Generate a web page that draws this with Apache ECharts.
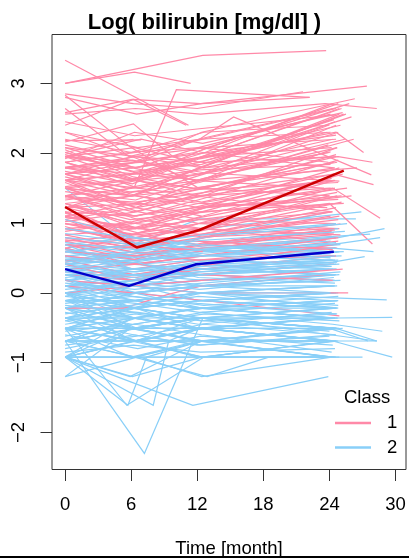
<!DOCTYPE html>
<html>
<head>
<meta charset="utf-8">
<script src="https://cdn.jsdelivr.net/npm/echarts@6/dist/echarts.min.js"></script>
<style>html,body{margin:0;padding:0;background:#fff}#c{width:409px;height:558px}</style>
</head>
<body>
<div id="c"></div>
<script>
// Each trajectory: [t0, y0, t1, y1, ...]  (t in months, y = log bilirubin)
const pinkTraj = [
[0,3.00, 6.3,3.16, 11.4,3.00],
[0,3.00, 12.5,3.40, 23.7,3.47],
[0,3.33, 11.2,2.40],
[0,2.85, 6.2,2.71, 12.0,2.64, 21.6,2.88],
[0,2.80, 6.5,2.56, 12.4,2.71, 22.2,2.80],
[0,2.58, 6.1,2.77, 12.3,2.71, 27.4,2.96],
[0,2.40, 6.2,2.77, 11.0,2.40],
[0,2.56, 6.4,2.64, 12.3,2.56, 23.6,2.71, 28.3,2.64],
[0,2.16, 6.2,2.42, 9.8,1.95, 12.6,1.79, 24.3,2.20],
[0,2.18, 6.9,2.19],
[0,1.22, 6.3,1.52, 10.1,2.91, 22.2,2.80],
[0,2.83, 6.0,2.08, 12.1,1.50, 24.0,1.39],
[0,2.64, 5.8,1.95, 12.5,2.20, 24.6,2.64],
[0,1.87, 6.4,2.01, 12.2,2.20, 15.3,2.52, 27.8,1.69],
[0,2.01, 6.5,1.79, 12.1,2.08, 24.1,2.56],
[0,1.95, 6.2,1.87, 11.8,2.01, 24.8,2.71],
[0,1.87, 5.9,1.61, 12.4,1.95, 25.1,2.64],
[0,1.79, 6.6,1.70, 12.3,1.87, 24.4,2.48],
[0,2.20, 6.0,2.01, 12.6,2.30, 24.0,2.40],
[0,1.95, 6.3,2.08, 12.0,1.87, 23.8,2.30],
[0,1.70, 6.1,1.79, 11.9,1.61, 24.7,2.08],
[0,1.61, 6.7,1.50, 12.3,1.79, 25.3,2.56],
[0,2.08, 6.4,1.95, 12.5,1.79, 24.2,1.95],
[0,1.87, 5.7,2.01, 12.2,2.08, 23.9,1.87],
[0,1.79, 6.2,1.61, 11.7,1.50, 24.5,1.79],
[0,2.01, 6.8,1.70, 12.4,1.61, 26.2,2.20],
[0,1.95, 6.0,1.79, 12.9,1.95, 24.6,2.30, 27.1,2.01],
[0,1.70, 6.5,1.87, 12.1,2.20, 24.3,2.64],
[0,1.61, 6.3,1.70, 12.7,1.95, 25.0,2.40],
[0,1.50, 6.0,1.39, 12.3,1.79, 24.9,2.56],
[0,1.87, 6.6,1.50, 12.0,1.39, 24.1,1.61],
[0,2.30, 6.1,1.95, 11.6,1.61, 23.5,1.50],
[0,1.79, 6.4,1.95, 12.6,1.87, 24.8,1.95, 27.9,1.87],
[0,1.95, 6.9,2.20, 12.5,2.01, 24.4,1.79],
[0,1.70, 5.6,1.50, 12.2,1.70, 24.0,2.01],
[0,2.01, 6.2,2.20],
[0,1.87, 6.5,1.61, 12.0,1.39],
[0,1.61, 6.3,1.87, 12.4,2.30, 26.3,2.78],
[0,1.50, 6.0,1.61, 12.9,2.08, 25.8,2.71],
[0,1.79, 6.8,1.87, 12.1,1.70, 25.4,2.20],
[0,2.08, 6.4,1.79, 12.6,1.95, 24.2,2.08],
[0,1.61, 6.1,1.39, 12.0,1.50, 24.7,1.87],
[0,1.95, 6.6,1.61, 12.3,1.70, 23.9,2.40],
[0,1.70, 6.2,1.95, 12.8,2.08, 24.6,2.20],
[0,1.39, 6.3,1.10, 12.1,1.28, 24.4,1.61],
[0,1.28, 6.0,0.99, 12.5,1.22, 24.9,1.79],
[0,1.50, 6.5,1.22, 12.2,1.39, 24.1,1.50],
[0,1.10, 6.7,0.92, 12.4,1.16, 25.2,1.70],
[0,1.22, 5.8,0.83, 12.0,0.99, 24.3,1.28],
[0,1.39, 6.2,1.28, 12.7,1.50, 24.6,1.95],
[0,0.99, 6.4,0.79, 12.3,0.92, 24.0,1.39],
[0,1.16, 6.1,1.10, 11.9,1.22, 25.6,1.50],
[0,1.28, 6.6,0.92, 12.8,0.83, 24.8,1.05],
[0,1.50, 6.3,1.39, 12.2,1.28, 23.8,1.22],
[0,1.05, 6.0,0.83, 12.5,1.10, 24.5,1.61],
[0,0.92, 6.8,0.74, 12.1,0.99, 24.2,1.16],
[0,1.39, 6.2,1.16, 12.6,1.39, 24.7,2.08],
[0,1.22, 6.5,0.99, 12.0,0.92, 25.0,0.83],
[0,1.10, 6.3,1.28, 12.4,1.50, 24.4,1.87],
[0,0.83, 6.1,0.64, 12.2,0.79, 24.1,1.10],
[0,1.28, 5.9,1.05, 12.9,1.16, 26.0,1.39],
[0,1.50, 6.7,1.16, 12.3,0.99, 24.9,0.92],
[0,0.99, 6.4,0.92, 12.7,1.22, 24.3,1.50, 28.6,1.07],
[0,1.16, 6.0,0.74, 12.1,0.83, 24.6,1.22],
[0,1.39, 6.6,1.05, 12.5,0.92, 23.7,0.74],
[0,0.92, 6.2,0.99, 12.0,1.16, 25.3,1.28],
[0,1.22, 6.9,1.28, 12.4,1.10],
[0,1.05, 6.3,0.69],
[0,1.28, 6.1,1.39, 12.6,1.70, 24.8,2.30],
[0,0.83, 6.5,0.92, 12.2,1.05, 24.0,1.28, 27.9,0.70],
[0,1.10, 6.0,0.92, 12.8,1.22, 25.1,1.39],
[0,1.61, 6.4,1.22, 12.3,1.05, 24.5,0.99],
[0,0.99, 6.7,0.83, 12.0,0.69, 24.2,0.83],
[0,1.39, 6.2,1.50, 12.5,1.61, 26.5,1.79],
[0,1.16, 6.3,0.79, 12.1,0.69, 24.7,0.64],
[0,0.92, 5.8,0.74, 12.4,0.83, 24.4,0.92],
[0,0.74, 6.2,0.53, 12.3,0.64, 24.6,0.79],
[0,0.69, 6.5,0.47, 12.0,0.59, 24.1,0.92],
[0,0.64, 6.1,0.41, 12.6,0.53, 24.8,0.74],
[0,0.79, 6.0,0.59, 12.2,0.47, 24.3,0.53],
[0,0.59, 6.6,0.53, 12.4,0.69, 25.0,0.99],
[0,0.53, 6.3,0.34, 12.1,0.47, 24.5,0.64],
[0,0.69, 6.8,0.64, 12.7,0.79, 24.9,1.10],
[0,0.47, 6.2,0.26, 12.3,0.41, 24.0,0.59],
[0,0.41, 6.0,0.18, 12.5,0.34, 24.6,0.53],
[0,0.00, 6.4,0.10, 12.2,0.00, 25.7,0.00],
[0,-0.22, 5.3,-0.22, 9.2,-0.03, 12.4,0.10, 24.2,0.26],
[0,0.10, 6.1,0.00, 12.6,-0.11, 24.9,-0.33],
[0,0.26, 6.5,0.18, 12.0,0.26, 24.4,0.41],
[0,0.74, 6.3,0.83, 12.8,0.92, 24.7,1.39],
[0,0.59, 6.0,0.69, 12.1,0.83, 24.2,1.16],
[0,0.34, 6.6,0.41, 12.3,0.53, 24.8,0.79],
[0,0.79, 6.2,0.69, 12.5,0.59],
[0,0.64, 6.4,0.79, 12.0,0.99, 24.5,1.50],
[0,0.18, 6.1,0.10, 12.4,0.18, 25.2,0.34],
[0,0.53, 6.7,0.41, 12.2,0.26, 24.3,0.18],
[0,1.39, 6.5,1.61, 12.4,1.95, 24.9,2.64],
[0,1.22, 6.2,1.39, 12.1,1.79, 25.5,2.56],
[0,1.61, 6.0,1.70, 12.7,2.01, 24.3,2.71],
[0,1.05, 6.4,1.22, 12.3,1.61, 24.6,2.40],
[0,2.30, 6.6,2.08, 12.2,2.20, 24.1,2.30],
[0,1.74, 6.1,1.56, 12.2,1.92, 18.4,2.10, 24.5,2.45],
[0,1.45, 6.4,1.33, 12.6,1.64, 24.1,2.02],
[0,2.05, 6.2,1.66, 12.1,1.48, 24.8,1.58],
[0,1.33, 6.7,1.46, 12.4,1.30, 24.9,1.72],
[0,1.58, 5.8,1.25, 12.3,1.38, 24.3,1.16],
[0,1.92, 6.3,2.30, 12.5,2.14, 25.2,2.58],
[0,1.02, 6.5,1.16, 12.0,1.41, 24.6,1.98],
[0,0.88, 6.1,1.02, 12.7,1.26, 24.2,1.64],
[0,1.14, 6.6,0.86, 12.3,1.08, 24.7,1.44],
[0,1.66, 6.0,1.44, 12.2,1.58, 23.9,2.12],
[0,0.62, 6.3,0.48, 12.6,0.72, 24.4,0.86],
[0,0.76, 6.2,0.66, 12.1,0.88, 25.1,1.30],
[0,2.12, 6.4,1.88, 12.5,2.00, 24.6,2.26],
[0,1.24, 6.5,1.10, 12.3,1.34, 24.8,1.90],
[0,0.95, 6.0,0.70, 12.4,0.74, 24.3,0.62],
[0,1.52, 6.6,1.64, 12.2,1.76, 24.1,1.84],
[0,1.80, 6.1,1.90, 12.6,1.72, 24.9,1.60],
[0,0.44, 6.3,0.56, 12.0,0.66, 24.5,0.90],
[0,1.98, 6.2,1.74, 12.4,1.84, 26.0,2.52],
[0,1.36, 6.4,1.30, 12.7,1.44, 24.4,1.70, 28.0,1.55],
[0,0.30, 6.5,0.22, 12.3,0.38, 24.7,0.70],
[0,2.45, 6.3,2.25, 12.2,2.35, 24.6,2.55],
[0,1.08, 5.9,0.95, 12.5,0.80, 24.2,0.88],
[0,1.70, 6.7,1.38, 12.1,1.22, 24.8,1.34]
];
const blueTraj = [
[0,-0.69, 7.2,-2.30, 12.5,-0.36, 24.1,-0.51],
[0,-0.92, 5.7,-1.61, 7.4,-0.92, 12.4,-0.69, 24.0,-0.51],
[0,-0.51, 5.6,-1.61, 12.6,-0.92, 24.4,-0.69],
[0,-0.92, 8.0,-1.61, 9.4,-0.69, 12.2,-0.51, 24.3,-0.36],
[0,-0.92, 11.6,-1.61, 23.9,-1.20],
[0,-1.20, 5.9,-0.51, 12.0,-0.69, 24.5,-0.69],
[0,-0.92, 5.9,-1.20, 12.4,-0.69, 24.1,-0.92],
[0,-0.92, 6.8,-0.92, 12.4,-1.20, 24.2,-0.92],
[0,-0.69, 6.3,-0.92, 12.9,-1.20, 18.5,-0.92, 24.6,-0.92],
[0,1.50, 6.5,0.69, 12.3,0.41, 24.2,0.26],
[0,0.69, 6.2,0.59, 12.5,0.92, 26.9,1.16],
[0,0.41, 6.0,0.47, 12.1,0.69, 27.7,0.84],
[0,0.10, 6.4,-0.11, 12.3,0.00, 29.2,-0.10],
[0,-0.22, 6.1,-0.36, 12.0,-0.22, 24.7,-0.36, 29.7,-0.35],
[0,-0.51, 6.6,-0.69, 12.4,-0.51, 24.3,-0.69, 29.7,-0.92],
[0,-0.36, 6.3,-0.51, 12.7,-0.36, 28.3,-0.69],
[0,0.59, 6.2,0.69, 12.2,1.06, 26.4,1.06],
[0,0.47, 6.5,0.53, 12.6,0.79, 24.0,1.16],
[0,-0.69, 6.1,-0.69, 12.2,-0.51, 24.4,-0.69],
[0,-0.51, 6.4,-0.36, 12.0,-0.51, 24.0,-0.36],
[0,-0.36, 6.0,-0.22, 12.5,-0.36, 24.6,-0.22],
[0,-0.22, 6.6,-0.11, 12.3,0.00, 24.2,0.10],
[0,-0.11, 6.2,-0.22, 12.1,-0.11, 24.8,0.00],
[0,0.00, 6.3,0.10, 12.4,0.18, 24.5,0.26],
[0,0.10, 6.0,0.00, 12.6,0.10, 24.1,0.18],
[0,0.18, 6.5,0.10, 12.0,0.26, 24.7,0.34],
[0,0.26, 6.1,0.18, 12.2,0.34, 24.3,0.47],
[0,0.34, 6.4,0.26, 12.5,0.41, 24.9,0.59],
[0,0.41, 6.2,0.34, 12.3,0.26, 24.0,0.34],
[0,0.47, 6.0,0.41, 12.7,0.53, 25.0,0.69],
[0,0.53, 6.6,0.41, 12.1,0.47, 24.4,0.53],
[0,0.59, 6.3,0.47, 12.4,0.59, 24.6,0.79],
[0,0.69, 6.1,0.53, 12.2,0.47, 24.2,0.41],
[0,-0.92, 6.5,-0.69, 12.0,-0.92, 24.5,-0.92],
[0,-0.69, 6.2,-0.51, 12.6,-0.69, 25.2,-0.51],
[0,-0.51, 6.0,-0.69, 12.3,-0.69, 24.3,-0.69],
[0,-0.36, 6.7,-0.51, 12.1,-0.36, 24.7,-0.51],
[0,-0.22, 6.3,-0.22, 12.5,-0.11, 24.0,-0.22],
[0,-0.11, 6.1,0.00, 12.2,0.10, 24.4,0.00],
[0,0.00, 6.4,-0.11, 12.0,-0.22, 24.8,-0.11],
[0,0.10, 6.6,0.18, 12.4,0.26, 24.1,0.41],
[0,0.18, 6.2,0.26, 12.7,0.18, 24.6,0.26],
[0,0.26, 6.0,0.34, 12.3,0.47, 25.1,0.53],
[0,0.34, 6.5,0.41, 12.1,0.34, 24.2,0.47],
[0,0.41, 6.3,0.18, 12.6,0.26, 24.5,0.18],
[0,0.47, 6.1,0.26, 12.2,0.34, 24.9,0.41],
[0,-0.69, 6.4,-0.92, 12.5,-0.69, 24.3,-0.51],
[0,-0.51, 6.2,-0.51, 12.0,-0.36, 24.6,-0.51],
[0,-0.36, 6.0,-0.36, 12.4,-0.51, 24.0,-0.36],
[0,-0.22, 6.5,-0.36, 12.2,-0.22, 24.7,-0.11],
[0,-0.11, 6.3,-0.11, 12.6,-0.22, 24.2,-0.36],
[0,0.00, 6.1,0.00, 12.3,0.10, 25.0,0.18],
[0,0.10, 6.6,0.10, 12.1,-0.11, 24.4,0.00],
[0,0.18, 6.4,0.00, 12.5,0.10, 24.5,0.10],
[0,0.26, 6.2,0.10, 12.0,0.18, 24.1,0.26],
[0,0.34, 6.0,0.18, 12.7,0.41, 24.8,0.47],
[0,-0.92, 6.3,-0.69, 12.2,-0.69, 24.6,-0.69],
[0,-0.69, 6.5,-0.51, 12.4,-0.51, 24.0,-0.69],
[0,-0.51, 6.1,-0.36, 12.6,-0.22, 24.3,-0.36],
[0,-0.36, 6.4,-0.22, 12.1,-0.36, 24.9,-0.51],
[0,-0.22, 6.2,-0.11, 12.3,-0.22, 24.4,-0.22],
[0,-0.11, 6.0,-0.22, 12.5,0.00, 24.7,0.10],
[0,0.00, 6.6,-0.22, 12.2,-0.11, 24.2,-0.22],
[0,0.10, 6.3,0.18, 12.0,0.10, 24.5,0.26],
[0,0.53, 6.1,0.59, 12.4,0.69, 24.8,0.92],
[0,0.59, 6.4,0.53, 12.6,0.64, 24.1,0.74],
[0,0.69, 6.2,0.79, 12.3,0.59, 24.6,0.64],
[0,0.64, 6.5,0.41, 12.1,0.53, 25.3,0.59],
[0,-0.69, 6.0,-0.69, 12.5,-0.92, 24.4,-0.69],
[0,-0.51, 6.3,-0.69, 12.2,-0.51, 24.0,-0.51, 27.5,-0.69],
[0,-0.36, 6.6,-0.36, 12.4,-0.36, 24.7,-0.36],
[0,-0.22, 6.1,-0.51, 12.0,-0.36, 24.3,-0.51],
[0,-0.11, 6.4,-0.36, 12.6,-0.22, 24.5,-0.36],
[0,0.00, 6.2,-0.36, 12.3,-0.51, 24.8,-0.36],
[0,0.18, 6.0,-0.11, 12.1,-0.22, 24.2,-0.11],
[0,0.26, 6.5,0.00, 12.5,-0.11, 24.6,0.00],
[0,0.34, 6.3,0.10, 12.2,0.00, 24.1,-0.11],
[0,0.41, 6.1,0.26, 12.7,0.10, 24.4,0.18],
[0,-0.92, 6.4,-0.92, 12.3,-0.92, 24.9,-0.92],
[0,-0.69, 6.2,-0.69, 12.0,-0.69, 24.0,-0.92, 27.0,-0.92],
[0,-0.51, 6.0,-0.51, 12.4,-0.69, 24.3,-0.92],
[0,-0.36, 6.5,-0.69, 12.6,-0.51, 24.6,-0.69],
[0,-0.22, 6.3,-0.51, 12.1,-0.69, 24.5,-0.51],
[0,-0.11, 6.6,-0.51, 12.5,-0.36, 24.2,-0.51],
[0,0.00, 6.1,-0.22, 12.2,-0.36, 24.7,-0.22],
[0,-0.92, 6.0,-0.51, 12.0,-0.36, 24.4,-0.51],
[0,-0.69, 6.3,-0.36, 12.3,-0.51, 24.1,-0.36],
[0,0.47, 6.4,0.59, 12.1,0.53, 24.3,0.64, 28.0,0.59],
[0,0.53, 6.2,0.34, 12.4,0.41, 24.6,0.34],
[0,0.59, 6.0,0.41, 12.5,0.34, 24.2,0.26],
[0,0.41, 6.5,0.47, 12.2,0.59, 24.8,0.79, 29.0,0.92],
[0,0.26, 6.1,0.26, 12.0,0.26, 24.0,0.18],
[0,0.10, 6.4,0.26, 12.6,0.34, 24.5,0.53],
[0,-0.11, 6.2,0.10, 12.3,0.18, 24.3,0.34],
[0,-0.22, 6.6,0.00, 12.5,0.10, 24.9,0.26],
[0,-0.36, 6.3,-0.11, 12.1,0.00, 24.4,0.10],
[0,-0.51, 6.0,-0.22, 12.4,-0.11, 24.6,-0.22],
[0,-0.69, 6.5,-0.36, 12.2,-0.22, 24.2,-0.36],
[0,-0.92, 6.1,-0.36, 12.0,-0.51, 24.7,-0.69],
[0,-0.92, 6.2,-0.69, 12.6,-0.51, 24.1,-0.69, 28.3,-0.69],
[0,-0.69, 6.4,-0.69, 12.3,-0.36, 24.5,-0.36],
[0,-0.51, 6.0,-0.92, 12.1,-0.69, 24.0,-0.69],
[0,-0.36, 6.6,-0.69, 12.4,-0.92, 24.8,-0.69],
[0,-0.22, 6.3,-0.69, 12.2,-0.69, 24.3,-0.92],
[0,0.69, 6.1,0.34, 12.5,0.26, 24.6,0.41],
[0,0.34, 6.4,0.47, 12.3,0.53, 24.2,0.69, 28.6,0.79],
[0,0.18, 6.2,0.34, 12.0,0.41, 24.9,0.59],
[0,0.00, 6.5,0.18, 12.6,0.26, 24.4,0.41],
[0,-0.11, 6.0,-0.11, 12.2,0.00, 24.1,0.00],
[0,-0.22, 6.3,0.00, 12.4,-0.22, 24.7,-0.11],
[0,-0.51, 6.1,-0.51, 12.0,-0.51, 24.5,-0.36],
[0,-0.69, 6.6,-0.51, 12.3,-0.36, 24.3,-0.22],
[0,-0.36, 6.2,-0.22, 12.5,-0.11, 24.0,0.00],
[0,0.10, 6.4,-0.22, 12.1,-0.36, 24.6,-0.51],
[0,0.26, 6.0,0.10, 12.3,0.00, 24.8,-0.22],
[0,-0.92, 6.3,-0.92, 12.6,-0.69, 24.2,-0.51],
[0,-1.20, 6.5,-0.92, 12.2,-0.92, 24.4,-0.92],
[0,-0.92, 6.1,-1.20, 12.4,-0.92, 23.9,-0.92],
[0,0.79, 6.3,0.69, 12.5,0.83, 24.6,0.99],
[0,0.92, 6.0,0.79, 12.2,0.69, 24.3,0.59],
[0,0.41, 6.2,0.59, 12.4,0.79, 25.6,0.99],
[0,0.59, 6.5,0.69, 12.7,0.53, 24.5,0.47],
[0,-0.51, 6.4,-0.22, 12.1,-0.51, 24.6,-0.51, 28.3,-0.69],
[0,-0.36, 6.1,-0.51, 12.6,-0.69, 24.2,-0.69],
[0,0.00, 6.2,-0.51, 12.4,-0.51, 24.4,-0.69],
[0,-0.80, 6.2,-0.60, 12.3,-0.75, 24.5,-0.60],
[0,-0.45, 6.4,-0.30, 12.1,-0.45, 24.2,-0.28],
[0,-0.15, 6.1,-0.05, 12.6,-0.18, 24.8,-0.05],
[0,0.05, 6.3,0.14, 12.2,0.05, 24.4,0.22],
[0,0.22, 6.0,0.30, 12.5,0.38, 24.7,0.44],
[0,0.38, 6.5,0.30, 12.4,0.45, 24.1,0.56],
[0,0.50, 6.2,0.44, 12.0,0.56, 24.6,0.72],
[0,-0.60, 6.6,-0.80, 12.3,-0.62, 24.3,-0.75],
[0,-0.28, 6.1,-0.45, 12.7,-0.30, 24.9,-0.40],
[0,-0.05, 6.4,-0.15, 12.2,-0.28, 24.5,-0.15],
[0,0.14, 6.3,0.05, 12.5,0.14, 25.0,0.30],
[0,0.30, 6.0,0.22, 12.1,0.30, 24.2,0.38],
[0,-0.75, 6.5,-0.62, 12.6,-0.45, 24.6,-0.60],
[0,-0.40, 6.2,-0.60, 12.0,-0.75, 24.0,-0.62],
[0,-0.18, 6.6,-0.28, 12.4,-0.40, 24.7,-0.30],
[0,0.62, 6.1,0.50, 12.3,0.62, 24.4,0.80],
[0,0.72, 6.4,0.62, 12.2,0.75, 25.4,0.88],
[0,-0.62, 6.3,-0.45, 12.5,-0.28, 24.3,-0.45, 28.8,-0.55],
[0,-0.30, 6.0,-0.18, 12.1,-0.05, 24.8,-0.18],
[0,0.44, 6.5,0.56, 12.6,0.62, 24.1,0.50],
[0,-0.85, 6.2,-0.75, 12.3,-0.85, 24.5,-0.80],
[0,-0.55, 6.4,-0.45, 12.4,-0.60, 24.2,-0.85],
[0,0.20, 6.1,-0.05, 12.0,-0.15, 24.6,-0.30],
[0,0.85, 6.3,0.72, 12.5,0.62, 24.9,0.70],
[0,-0.05, 6.6,0.20, 12.2,0.30, 24.3,0.44, 27.2,0.52],
[0,1.05, 6.2,0.80, 12.4,0.66, 24.7,0.58],
[0,-0.40, 6.0,-0.28, 12.6,-0.40, 24.0,-0.55],
[0,0.30, 6.4,0.44, 12.1,0.22, 24.5,0.14]
];
const meanPink = [[0,1.23],[6.5,0.65],[12.2,0.90],[25.3,1.75]];
const meanBlue = [[0,0.34],[5.8,0.10],[11.9,0.41],[24.4,0.59]];
const classNames = ['1','2'];
const xTicks = [0,6,12,18,24,30];
const yTicks = [-2,-1,0,1,2,3];

const PINK = '#FF89A8', BLUE = '#89CFF8';
const FONT = '"Liberation Sans", Arial, Helvetica, sans-serif';

function pairs(flat){ const out=[]; for(let i=0;i<flat.length;i+=2) out.push([flat[i],flat[i+1]]); return out; }
const lineData = [];
const n = Math.max(pinkTraj.length, blueTraj.length);
for (let i=0;i<n;i++){
  if (blueTraj[i]) lineData.push({coords: pairs(blueTraj[i]), lineStyle:{color:BLUE}});
  if (pinkTraj[i]) lineData.push({coords: pairs(pinkTraj[i]), lineStyle:{color:PINK}});
}

const chart = echarts.init(document.getElementById('c'), null, {renderer:'canvas'});
chart.setOption({
  animation:false,
  backgroundColor:'#fff',
  title:[
    {text:'Log( bilirubin [mg/dl] )', left:'center', top:7,
     textStyle:{fontFamily:FONT, fontSize:22, fontWeight:'bold', color:'#000'}},
    {text:'Class', left:339, top:383,
     textStyle:{fontFamily:FONT, fontSize:18.5, fontWeight:'normal', color:'#000'}}
  ],
  legend:{
    data: classNames, orient:'vertical', left:335, top:413, padding:0,
    icon:'rect', itemWidth:36, itemHeight:2.5, itemGap:4.5,
    textStyle:{fontFamily:FONT, fontSize:18.5, color:'#000', lineHeight:20, padding:[0,0,0,11]}
  },
  grid:{left:52, right:3, top:34.5, bottom:88.5, outerBoundsMode:'none', containLabel:false,
        show:true, borderColor:'#333', borderWidth:1, backgroundColor:'transparent'},
  xAxis:{
    type:'value', min:-1.19, max:30.95,
    name:'Time [month]', nameLocation:'middle', nameGap:70,
    nameTextStyle:{fontFamily:FONT, fontSize:18.5, color:'#000'},
    axisLine:{show:false, onZero:false}, splitLine:{show:false},
    axisTick:{show:true, length:11.5, customValues:xTicks, lineStyle:{color:'#333', width:1}},
    axisLabel:{customValues:xTicks, margin:26, fontFamily:FONT, fontSize:18.5, color:'#000'}
  },
  yAxis:{
    type:'value', min:-2.53, max:3.70,
    axisLine:{show:false, onZero:false}, splitLine:{show:false},
    axisTick:{show:true, length:11.5, customValues:yTicks, lineStyle:{color:'#333', width:1}},
    axisLabel:{customValues:yTicks, rotate:90, margin:24, fontFamily:FONT, fontSize:18.5, color:'#000',
      formatter:function(v){ return v<0 ? '\u2212'+Math.abs(v) : String(v); }}
  },
  graphic:[
    {type:'line', shape:{x1:0, y1:557, x2:409, y2:557}, style:{stroke:'#000', lineWidth:2}, z:10}
  ],
  series:[
    {type:'lines', coordinateSystem:'cartesian2d', polyline:true, silent:true, z:2,
     lineStyle:{width:1.2, opacity:1}, data:lineData},
    {type:'line', name:'mean1', data:meanPink, showSymbol:false, z:5, lineStyle:{color:'#CC0000', width:2.5}, itemStyle:{color:'#CC0000'}},
    {type:'line', name:'mean2', data:meanBlue, showSymbol:false, z:5, lineStyle:{color:'#0000CC', width:2.5}, itemStyle:{color:'#0000CC'}},
    {type:'line', name:'1', data:[], itemStyle:{color:PINK}, lineStyle:{color:PINK}},
    {type:'line', name:'2', data:[], itemStyle:{color:BLUE}, lineStyle:{color:BLUE}}
  ]
});
</script>
</body>
</html>
